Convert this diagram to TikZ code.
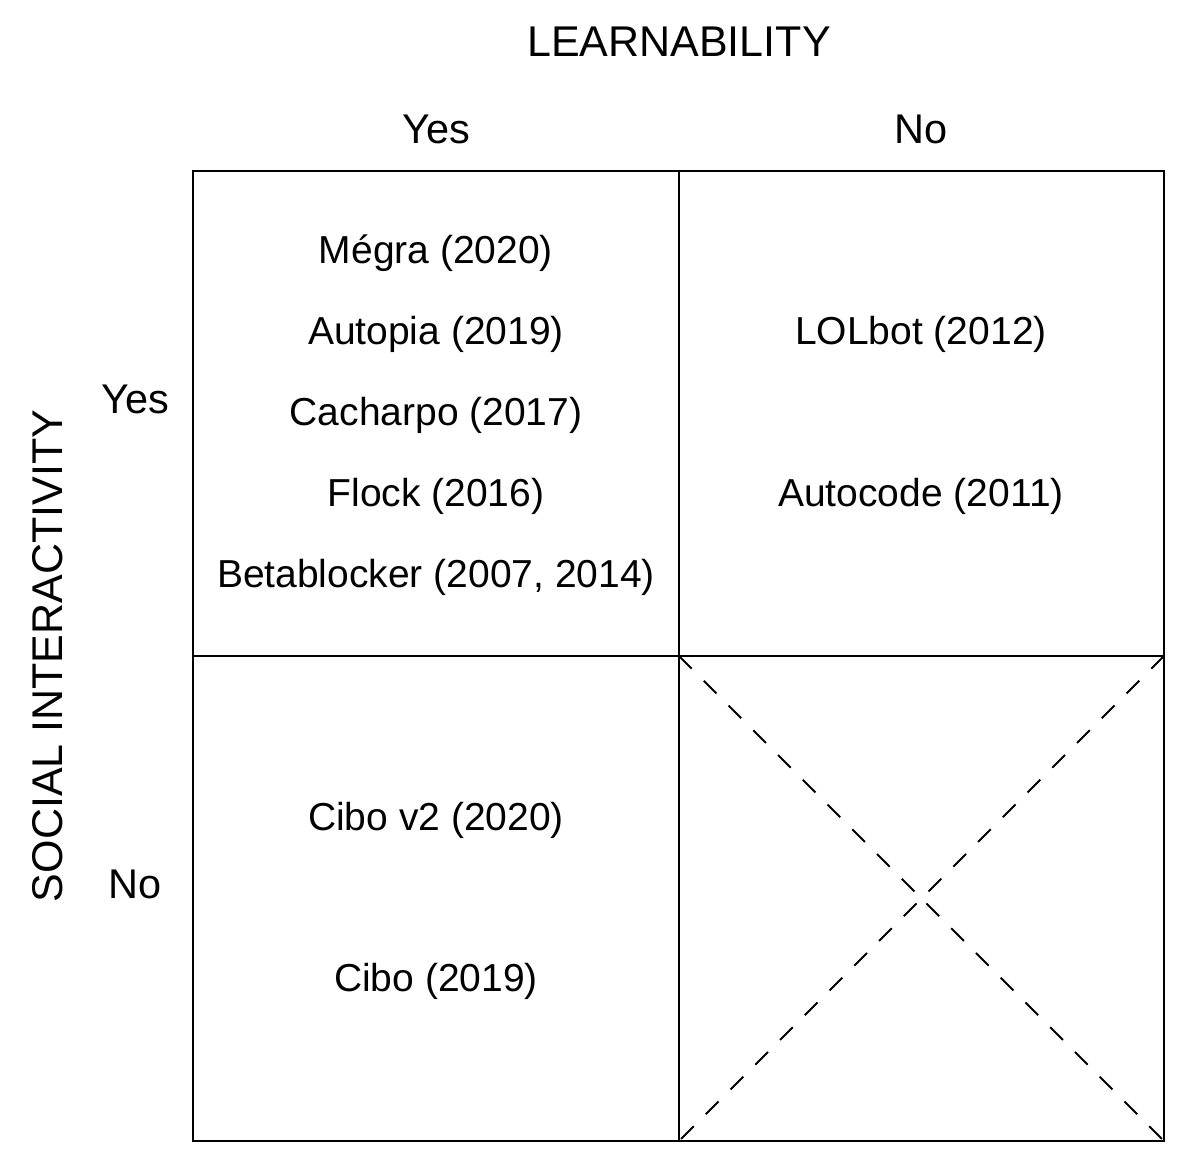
\documentclass[tikz,border=0pt]{standalone}
\usepackage{fontspec}
\setmainfont{Liberation Sans}
\begin{document}
\begin{tikzpicture}[x=1pt,y=-1pt,
  grid/.style={line width=2pt},
  diag/.style={line width=2pt, dash pattern=on 18pt off 17pt},
  cell/.style={inner sep=0pt, font=\fontsize{39}{46}\selectfont},
  head/.style={inner sep=0pt, font=\fontsize{41.5}{48}\selectfont},
  axis/.style={inner sep=0pt, font=\fontsize{43}{50}\selectfont}]
\useasboundingbox (0,0) rectangle (1200,1171);
\coordinate (tl) at (193,171);
\coordinate (br) at (1164,1141);
\coordinate (tm) at (679,171);
\coordinate (bm) at (679,1141);
\coordinate (ml) at (193,656);
\coordinate (mr) at (1164,656);
\coordinate (cc) at (679,656);
\coordinate (cbr) at (1164,1141);
\coordinate (cmr) at (1164,656);
\coordinate (cbm) at (679,1141);
\draw[grid] (tl) rectangle (br);
\draw[grid] (tm) -- (bm);
\draw[grid] (ml) -- (mr);
\draw[diag] (cc) -- (cbr);
\draw[diag] (cmr) -- (cbm);
\node[axis] (learn) at (679,42) {LEARNABILITY};
\node[axis, rotate=90] (social) at (48,656) {SOCIAL INTERACTIVITY};
\node[head] (hyes) at (436,129) {Yes};
\node[head] (hno) at (921,129) {No};
\node[head] (ryes) at (135,399) {Yes};
\node[head] (rno) at (135,884) {No};
\node[cell] (megra) at (436,253) {Mégra (2020)};
\node[cell] (autopia) at (436,334) {Autopia (2019)};
\node[cell] (cacharpo) at (436,415) {Cacharpo (2017)};
\node[cell] (flock) at (436,496) {Flock (2016)};
\node[cell] (beta) at (436,577) {Betablocker (2007, 2014)};
\node[cell] (lol) at (921,334) {LOLbot (2012)};
\node[cell] (autocode) at (921,496) {Autocode (2011)};
\node[cell] (cibo2) at (436,820) {Cibo v2 (2020)};
\node[cell] (cibo) at (436,981) {Cibo (2019)};
\end{tikzpicture}
\end{document}
